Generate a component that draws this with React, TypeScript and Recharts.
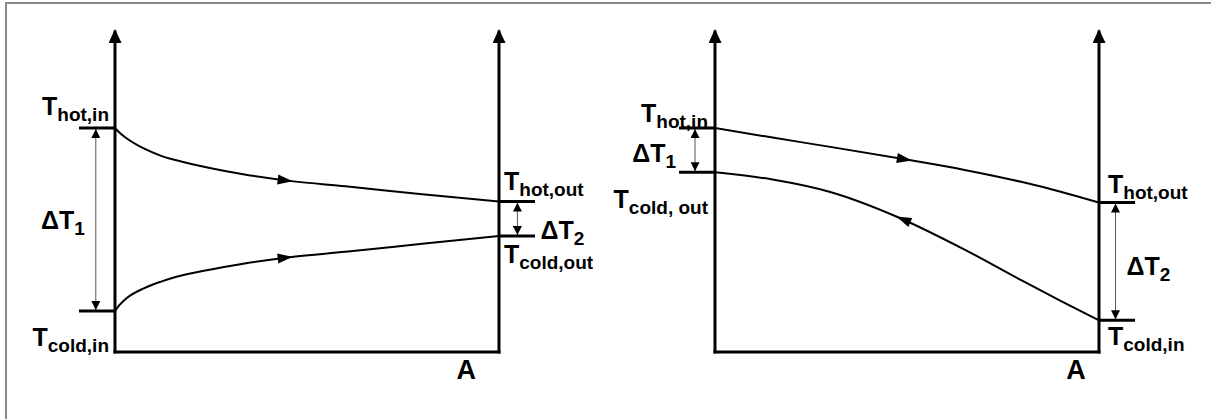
import React from 'react';
import { LineChart, Line, XAxis, YAxis, ReferenceLine } from 'recharts';

// parallel flow (left diagram): area fraction vs temperature
const parArea = [0, 1.2, 3, 7.5, 12, 16, 25, 33, 46, 60, 80, 100];
const parHot = [70, 68.5, 66.8, 63.6, 61.3, 59.9, 57.4, 55.6, 53.4, 51.8, 49.3, 47.0];
const parCold = [12.8, 14.7, 16.8, 19.9, 22.0, 23.5, 25.8, 27.5, 29.7, 31.3, 33.8, 36.25];

// counter flow (right diagram)
const ctrAreaHot = [0, 15, 30, 51, 65, 80, 90, 100];
const ctrHot = [70, 67.0, 64.1, 59.9, 56.9, 53.1, 50.1, 46.7];
const ctrAreaCold = [0, 15, 30, 47.5, 65, 80, 90, 100];
const ctrCold = [56.2, 53.9, 50.0, 42.2, 32.0, 22.3, 16.0, 9.9];

const FONT = '"Liberation Sans", Arial, sans-serif';
const AXIS = { stroke: '#000', strokeWidth: 3, strokeLinecap: 'square' as const };
const STUB = { stroke: '#000', strokeWidth: 3 };

const toRows = (area: number[], temp: number[]) => area.map((a, i) => ({ a, t: temp[i] }));
const last = (arr: number[]) => arr[arr.length - 1];

type TickLabel = { value: number; sub: string; dx: number; dy: number };

function TempLabel({ x, y, sub, anchor }: { x: number; y: number; sub: string; anchor: 'start' | 'end' }) {
  return (
    <text x={x} y={y} textAnchor={anchor} fontFamily={FONT} fontWeight="bold" fontSize={25} fill="#000">
      <tspan>T</tspan>
      <tspan fontSize={19} dy={6}>{sub}</tspan>
    </text>
  );
}

function TempTick(props: any) {
  const { x, y, payload, labels, side } = props;
  const lab = (labels as TickLabel[]).find((l) => Math.abs(l.value - payload.value) < 1e-6);
  if (!lab) return null;
  const axisX = side === 'left' ? x + 36 : x - 36;
  return <TempLabel x={axisX + lab.dx} y={y + lab.dy} sub={lab.sub} anchor={side === 'left' ? 'end' : 'start'} />;
}

function ATick(props: any) {
  const { x, y } = props;
  return (
    <text x={x} y={y + 27} textAnchor="middle" fontFamily={FONT} fontWeight="bold" fontSize={27} fill="#000">
      A
    </text>
  );
}

const arrowDot = (at: number, reverse: boolean) => (p: any) => {
  const { cx, cy, index, payload, points } = p;
  if (!payload || payload.a !== at || cx == null) return <g key={`d${index}`} />;
  const prev = points?.[index - 1] ?? { x: cx - 1, y: cy };
  const next = points?.[index + 1] ?? { x: cx + 1, y: cy };
  let ang = (Math.atan2(next.y - prev.y, next.x - prev.x) * 180) / Math.PI;
  if (reverse) ang += 180;
  return (
    <path
      key={`d${index}`}
      d="M1,0 L-14,-5 L-14,5 Z"
      transform={`translate(${cx},${cy}) rotate(${ang})`}
      fill="#000"
    />
  );
};

type Dim = { x: number; top: number; bottom: number; sub: string; side: 'left' | 'right'; dx: number; dy: number };

const dimShape = (d: Dim) => (p: any) => {
  const { x1, y1, x2, y2 } = p;
  const mid = (y1 + y2) / 2;
  return (
    <g>
      <line
        x1={x1}
        y1={y1 + 1}
        x2={x2}
        y2={y2 - 1}
        stroke="#555"
        strokeWidth={1}
        markerStart="url(#dimArrow)"
        markerEnd="url(#dimArrow)"
      />
      <text
        x={x1 + d.dx}
        y={mid + d.dy}
        textAnchor={d.side === 'left' ? 'end' : 'start'}
        fontFamily={FONT}
        fontWeight="bold"
        fontSize={25}
        fill="#000"
      >
        <tspan>ΔT</tspan>
        <tspan fontSize={19} dy={6}>{d.sub}</tspan>
      </text>
    </g>
  );
};

type PanelProps = {
  hot: { a: number; t: number }[];
  cold: { a: number; t: number }[];
  hotArrowAt: number;
  coldArrowAt: number;
  coldReverse: boolean;
  leftLabels: TickLabel[];
  rightLabels: TickLabel[];
  dims: Dim[];
  aPos: number;
};

function Panel({ hot, cold, hotArrowAt, coldArrowAt, coldReverse, leftLabels, rightLabels, dims, aPos }: PanelProps) {
  return (
    <LineChart width={600} height={419} margin={{ top: 32, right: 0, bottom: 27, left: 0 }}>
      <XAxis
        type="number"
        dataKey="a"
        domain={[0, 100]}
        allowDataOverflow
        ticks={[aPos]}
        interval={0}
        tickLine={false}
        tickSize={0}
        tickMargin={0}
        height={40}
        axisLine={AXIS}
        tick={<ATick />}
      />
      <YAxis
        yAxisId="l"
        orientation="left"
        type="number"
        domain={[0, 100]}
        allowDataOverflow
        width={115}
        ticks={leftLabels.map((l) => l.value)}
        interval={0}
        tickSize={36}
        tickMargin={0}
        tickLine={STUB}
        axisLine={{ ...AXIS, markerStart: 'url(#axisArrow)' }}
        tick={<TempTick labels={leftLabels} side="left" />}
      />
      <YAxis
        yAxisId="r"
        orientation="right"
        type="number"
        domain={[0, 100]}
        allowDataOverflow
        width={101}
        ticks={rightLabels.map((l) => l.value)}
        interval={0}
        tickSize={36}
        tickMargin={0}
        tickLine={STUB}
        axisLine={{ ...AXIS, markerStart: 'url(#axisArrow)' }}
        tick={<TempTick labels={rightLabels} side="right" />}
      />
      <Line
        yAxisId="l"
        data={hot}
        dataKey="t"
        type="monotone"
        stroke="#000"
        strokeWidth={2}
        dot={arrowDot(hotArrowAt, false)}
        activeDot={false}
        isAnimationActive={false}
      />
      <Line
        yAxisId="l"
        data={cold}
        dataKey="t"
        type="monotone"
        stroke="#000"
        strokeWidth={2}
        dot={arrowDot(coldArrowAt, coldReverse)}
        activeDot={false}
        isAnimationActive={false}
      />
      {dims.map((d, i) => (
        <ReferenceLine
          key={i}
          yAxisId="l"
          ifOverflow="visible"
          segment={[
            { x: d.x, y: d.top },
            { x: d.x, y: d.bottom },
          ]}
          shape={dimShape(d)}
        />
      ))}
    </LineChart>
  );
}

export default function App() {
  return (
    <div style={{ position: 'absolute', left: 0, top: 0, width: 1211, height: 419, background: '#fff', overflow: 'hidden' }}>
      <svg width={0} height={0} style={{ position: 'absolute' }}>
        <defs>
          <marker id="axisArrow" markerWidth={14} markerHeight={13} refX={11} refY={6.5} orient="auto-start-reverse" markerUnits="userSpaceOnUse">
            <path d="M0,0 L14,6.5 L0,13 Z" fill="#000" />
          </marker>
          <marker id="dimArrow" markerWidth={9} markerHeight={9} refX={9} refY={4.5} orient="auto-start-reverse" markerUnits="userSpaceOnUse">
            <path d="M0,0 L9,4.5 L0,9 Z" fill="#000" />
          </marker>
        </defs>
      </svg>
      <div
        style={{
          position: 'absolute',
          left: 5,
          top: 2,
          width: 1204,
          height: 415,
          borderTop: '2px solid #8a8a8a',
          borderLeft: '2px solid #8a8a8a',
        }}
      />
      <div style={{ position: 'absolute', left: 0, top: 0 }}>
        <Panel
          hot={toRows(parArea, parHot)}
          cold={toRows(parArea, parCold)}
          hotArrowAt={46}
          coldArrowAt={46}
          coldReverse={false}
          leftLabels={[
            { value: parHot[0], sub: 'hot,in', dx: -6, dy: -13 },
            { value: parCold[0], sub: 'cold,in', dx: -6, dy: 35 },
          ]}
          rightLabels={[
            { value: last(parHot), sub: 'hot,out', dx: 5, dy: -12 },
            { value: last(parCold), sub: 'cold,out', dx: 5, dy: 27 },
          ]}
          dims={[
            { x: -5, top: parHot[0], bottom: parCold[0], sub: '1', side: 'left', dx: -11, dy: 9.5 },
            { x: 104.8, top: last(parHot), bottom: last(parCold), sub: '2', side: 'right', dx: 23, dy: 20 },
          ]}
          aPos={91.5}
        />
      </div>
      <div style={{ position: 'absolute', left: 600, top: 0 }}>
        <Panel
          hot={toRows(ctrAreaHot, ctrHot)}
          cold={toRows(ctrAreaCold, ctrCold)}
          hotArrowAt={51}
          coldArrowAt={47.5}
          coldReverse={true}
          leftLabels={[
            { value: ctrHot[0], sub: 'hot,in', dx: -7, dy: -6 },
            { value: ctrCold[0], sub: 'cold, out', dx: -7, dy: 36 },
          ]}
          rightLabels={[
            { value: last(ctrHot), sub: 'hot,out', dx: 9, dy: -10 },
            { value: last(ctrCold), sub: 'cold,in', dx: 9, dy: 25 },
          ]}
          dims={[
            { x: -5.2, top: ctrHot[0], bottom: ctrCold[0], sub: '1', side: 'left', dx: -19, dy: 12 },
            { x: 104.3, top: last(ctrHot), bottom: last(ctrCold), sub: '2', side: 'right', dx: 11, dy: 14 },
          ]}
          aPos={94}
        />
      </div>
    </div>
  );
}
